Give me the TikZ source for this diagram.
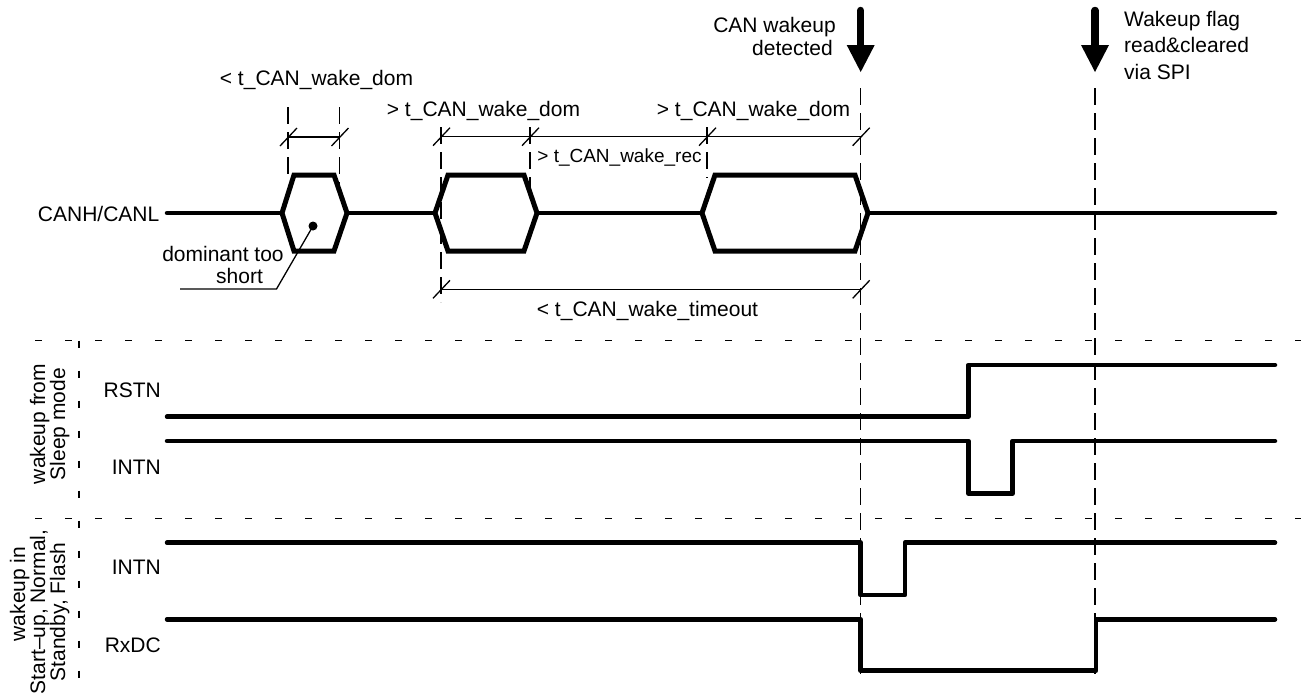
\documentclass[tikz,border=0pt]{standalone}
\usepackage{fontspec}
\setmainfont{Liberation Sans}
\begin{document}
\begin{tikzpicture}[x=1pt,y=-1pt,
  sig/.style={line width=4.5pt,line cap=round,line join=round},
  hexa/.style={line width=5pt,line join=miter},
  dimln/.style={line width=1.3pt},
  vdash/.style={line width=1.5pt,dash pattern=on 17pt off 8pt},
  sepln/.style={line width=1.5pt,dash pattern=on 7pt off 23pt},
  txt/.style={font=\fontsize{21}{25}\selectfont,inner sep=0pt,anchor=base},
  rtxt/.style={txt,anchor=base east},
  ltxt/.style={txt,anchor=base west},
  vtxt/.style={txt,rotate=90},
]
\useasboundingbox (0,0) rectangle (1301,694);

% ---------- separators ----------
\draw[sepln] (35,340.7) -- (1301,340.7);
\draw[sepln] (35,518.3) -- (1301,518.3);
\draw[sepln] (79,340.7) -- (79,694);

% ---------- arrows at top ----------
\coordinate (a1) at (860.7,72);
\coordinate (a2) at (1095,72);
\foreach \c in {a1,a2}{
  \draw[line width=7.5pt,line cap=round] ([yshift=61.5pt]\c) -- ([yshift=22pt]\c);
  \fill ([xshift=-14pt,yshift=27pt]\c) -- ([xshift=14pt,yshift=27pt]\c) -- (\c) -- cycle;
}

% ---------- dashed vertical guides ----------
\draw[vdash] (860.7,88) -- (860.7,674);
\draw[vdash] (1095,88) -- (1095,674);
\draw[vdash] (288,107) -- (288,181);
\draw[vdash] (339.5,107) -- (339.5,185);
\draw[vdash] (441,127) -- (441,302);
\draw[vdash] (530,127) -- (530,194);
\draw[vdash] (707,127) -- (707,178);

% ---------- dimension lines ----------
\draw[dimln] (288,137) -- (339.5,137);
\draw[dimln] (441,136.7) -- (860.7,136.7);
\draw[dimln] (441,289.3) -- (860.7,289.3);
\foreach \x/\y in {288/137,339.5/137,441/136.7,530/136.7,707/136.7,860.7/136.7,441/289.3,860.7/289.3}
  \draw[dimln] (\x-8,\y+9) -- (\x+9,\y-9);

% ---------- CAN bus ----------
\draw[sig] (167,213) -- (282,213);
\draw[sig] (347,213) -- (435,213);
\draw[sig] (537,213) -- (702,213);
\draw[sig] (868,213) -- (1275,213);
\draw[hexa] (282,213) -- (294,175) -- (334,175) -- (347,213) -- (334,251) -- (294,251) -- cycle;
\draw[hexa] (435,213) -- (448,175) -- (524,175) -- (537,213) -- (524,251) -- (448,251) -- cycle;
\draw[hexa] (702,213) -- (715,175) -- (855,175) -- (868,213) -- (855,251) -- (715,251) -- cycle;

% dot and leader
\coordinate (dot) at (313,226);
\fill (dot) circle[radius=4.5pt];
\coordinate (lk) at (276.5,289);
\coordinate (le) at (180,289);
\draw[dimln] (dot) -- (lk) -- (le);

% ---------- other signals ----------
\draw[sig] (167,416.7) -- (968.3,416.7) -- (968.3,365) -- (1275,365);
\draw[sig] (167,441) -- (968.3,441) -- (968.3,493.3) -- (1012.7,493.3) -- (1012.7,441) -- (1275,441);
\draw[sig] (167,542.7) -- (860.7,542.7) -- (860.7,595) -- (905,595) -- (905,542.7) -- (1275,542.7);
\draw[sig] (167,619.3) -- (860.7,619.3) -- (860.7,670.7) -- (1096,670.7) -- (1096,619.3) -- (1275,619.3);

% ---------- texts ----------
\node[rtxt] (canl) at (159.5,221) {CANH/CANL};
\node[txt] (dom1) at (316.5,85) {< t\_CAN\_wake\_dom};
\node[txt] (dom2) at (483.5,116.7) {> t\_CAN\_wake\_dom};
\node[txt] (dom3) at (753.5,116.7) {> t\_CAN\_wake\_dom};
\node[txt,font=\fontsize{19}{23}\selectfont] (rec) at (619.5,162) {> t\_CAN\_wake\_rec};
\node[txt] (tout) at (647.5,316) {< t\_CAN\_wake\_timeout};
\node[txt] (dts1) at (223,261.7) {dominant too};
\node[txt] (dts2) at (239.5,283) {short};
\node[rtxt] (cw1) at (836,32) {CAN wakeup};
\node[rtxt] (cw2) at (833,55) {detected};
\node[ltxt] (wf1) at (1124,26.5) {Wakeup flag};
\node[ltxt] (wf2) at (1124,52) {read\&cleared};
\node[ltxt] (wf3) at (1124,79) {via SPI};

\node[rtxt] (rstn) at (161,397.7) {RSTN};
\node[rtxt] (intn1) at (161,474) {INTN};
\node[rtxt] (intn2) at (161,574) {INTN};
\node[rtxt] (rxdc) at (161,652.3) {RxDC};

\node[vtxt] (sl1) at (45,424) {wakeup from};
\node[vtxt] (sl2) at (65,424) {Sleep mode};
\node[vtxt] (wi1) at (25,594) {wakeup in};
\node[vtxt] (wi2) at (45,612) {Start--up, Normal,};
\node[vtxt] (wi3) at (65,612) {Standby, Flash};
\end{tikzpicture}
\end{document}
